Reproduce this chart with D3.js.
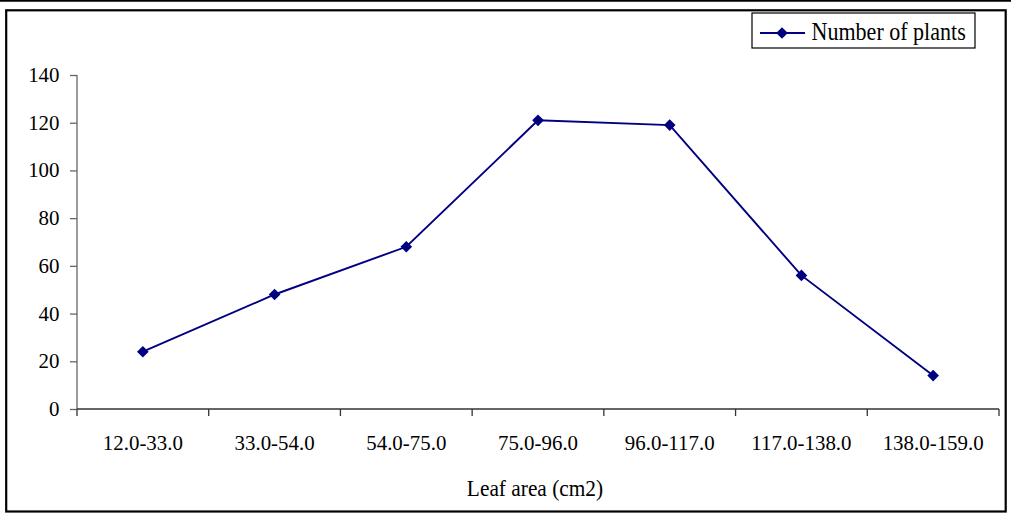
<!DOCTYPE html>
<html>
<head>
<meta charset="utf-8">
<script src="https://cdn.jsdelivr.net/npm/d3@7"></script>
<style>
  html, body { margin: 0; padding: 0; background: #fff; }
  svg { display: block; }
  text { font-family: "Liberation Serif", "Times New Roman", serif; fill: #000; }
</style>
</head>
<body>
<svg id="chart" width="1011" height="513"></svg>
<script>
// Leaf area classes and number of plants in each class
const categories = ["12.0-33.0", "33.0-54.0", "54.0-75.0", "75.0-96.0", "96.0-117.0", "117.0-138.0", "138.0-159.0"];
const plants = [24, 48, 68, 121, 119, 56, 14];
const yTicks = [0, 20, 40, 60, 80, 100, 120, 140];
const seriesName = "Number of plants";
const xTitle = "Leaf area (cm2)";

const W = 1011, H = 513;
const navy = "#000080";

const svg = d3.select("#chart");

// Page rule at the top and the chart frame
svg.append("line").attr("x1", 0).attr("x2", W).attr("y1", 0.8).attr("y2", 0.8)
  .attr("stroke", "#000").attr("stroke-width", 1.8);
svg.append("rect").attr("x", 6.2).attr("y", 10.3).attr("width", 999.5).attr("height", 501.2)
  .attr("fill", "none").attr("stroke", "#000").attr("stroke-width", 2.2);

const x = d3.scaleBand().domain(categories).range([77, 999]);
const y = d3.scaleLinear().domain([0, 140]).range([409, 75]);

function squeezedText(g, tx, ty, str, size, anchor, sx) {
  return g.append("text")
    .attr("transform", `translate(${tx},${ty}) scale(${sx},1)`)
    .attr("text-anchor", anchor)
    .style("font-size", size + "px")
    .text(str);
}

// Y axis
const yAxis = svg.append("g").attr("transform", "translate(77,0)")
  .call(d3.axisLeft(y).tickValues(yTicks).tickSize(7).tickFormat(""));
yAxis.select(".domain").attr("stroke", "#666").attr("stroke-width", 1.3).attr("d", `M0,${y(140)}V${y(0)}`);
yAxis.selectAll(".tick line").attr("stroke", "#666").attr("stroke-width", 1.3);
yTicks.forEach(v => squeezedText(svg, 59.5, y(v) + 7, String(v), 20.5, "end", 1.02));

// X axis with ticks at category boundaries
const xAxis = svg.append("g").attr("transform", `translate(0,${y(0)})`)
  .call(d3.axisBottom(x).tickSize(0).tickFormat(""));
xAxis.select(".domain").attr("stroke", "#333").attr("stroke-width", 1.3).attr("d", `M77,0H999`);
const bounds = categories.map(c => x(c)).concat([x.range()[1]]);
xAxis.selectAll(".bound").data(bounds).join("line").attr("class", "bound")
  .attr("x1", d => d).attr("x2", d => d).attr("y1", 0).attr("y2", 7)
  .attr("stroke", "#333").attr("stroke-width", 1.3);
categories.forEach(c => squeezedText(svg, x(c) + x.bandwidth() / 2, 450, c, 20.5, "middle", 1.02));

// Axis title
squeezedText(svg, 535, 496, xTitle, 24, "middle", 0.89);

// Series line and diamond markers
const cx = c => x(c) + x.bandwidth() / 2;
const line = d3.line().x(d => cx(d[0])).y(d => y(d[1]));
const pts = categories.map((c, i) => [c, plants[i]]);
svg.append("path").datum(pts).attr("d", line)
  .attr("fill", "none").attr("stroke", navy).attr("stroke-width", 1.9);
const diamond = d3.symbol().type(d3.symbolSquare).size(68);
svg.selectAll(".mk").data(pts).join("path").attr("class", "mk")
  .attr("d", diamond)
  .attr("transform", d => `translate(${cx(d[0])},${y(d[1])}) rotate(45)`)
  .attr("fill", navy);

// Legend
const lg = svg.append("g");
lg.append("rect").attr("x", 752).attr("y", 13).attr("width", 223).attr("height", 35)
  .attr("fill", "#fff").attr("stroke", "#000").attr("stroke-width", 1.2);
lg.append("line").attr("x1", 760).attr("x2", 805).attr("y1", 33).attr("y2", 33)
  .attr("stroke", navy).attr("stroke-width", 1.9);
lg.append("path").attr("d", diamond).attr("transform", "translate(782,33) rotate(45)").attr("fill", navy);
squeezedText(lg, 811.5, 39.5, seriesName, 24.5, "start", 0.9);
</script>
</body>
</html>
